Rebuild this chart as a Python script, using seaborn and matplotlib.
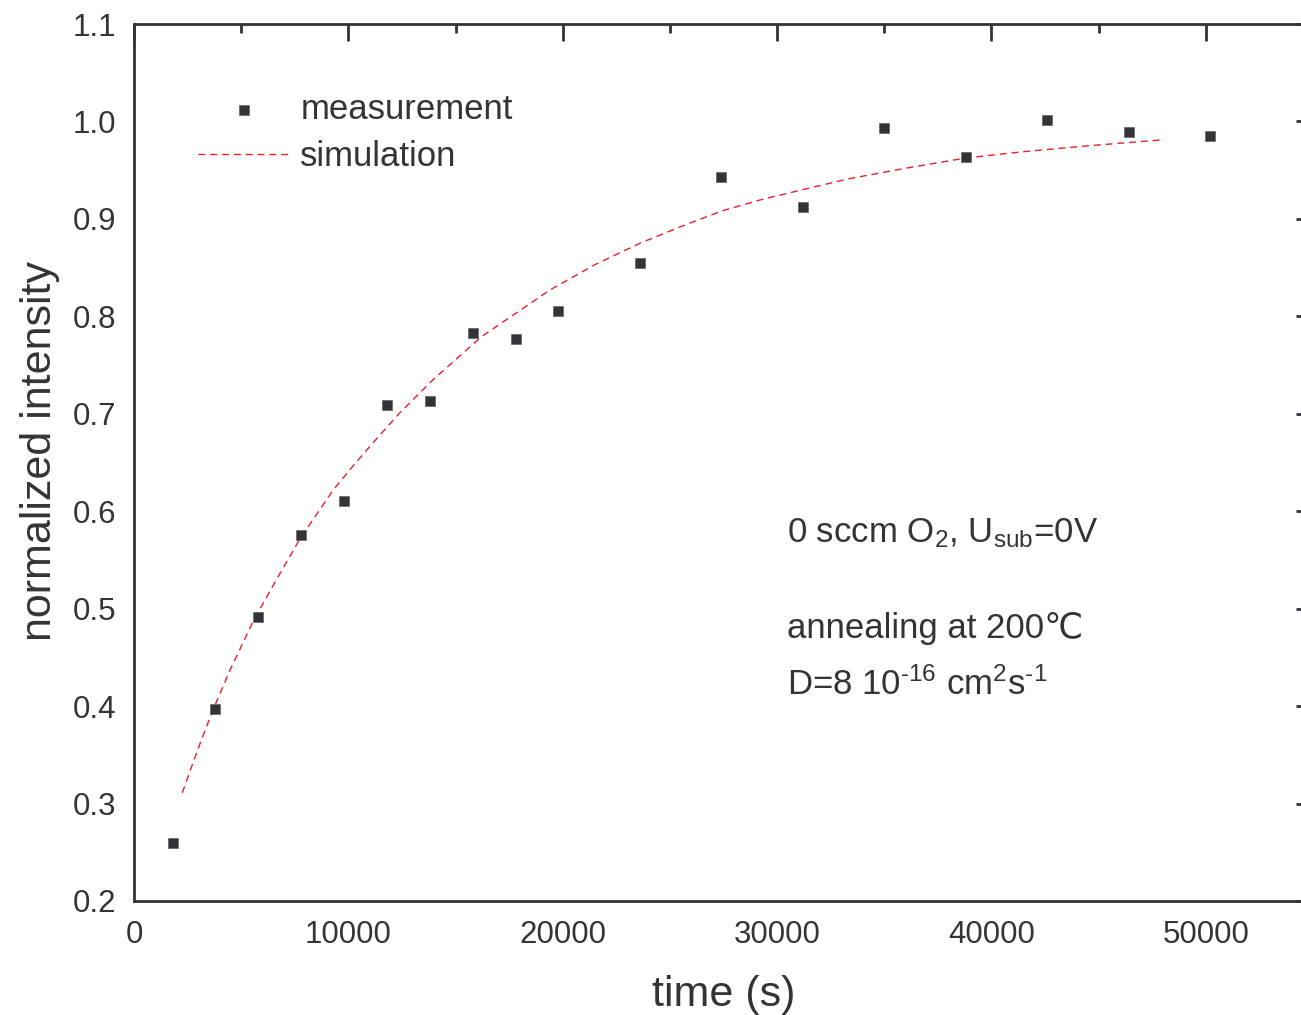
import matplotlib
matplotlib.use("Agg")
import matplotlib.pyplot as plt
import seaborn as sns
import pandas as pd
from matplotlib.ticker import MultipleLocator, FixedLocator

# ---- data ----
meas_time = [1800, 3800, 5800, 7800, 9800, 11800, 13800, 15800, 17800, 19800,
             23600, 27400, 31200, 35000, 38800, 42600, 46400, 50200]
meas_int = [0.260, 0.397, 0.491, 0.576, 0.610, 0.709, 0.713, 0.783, 0.777, 0.805,
            0.855, 0.943, 0.912, 0.993, 0.964, 1.001, 0.989, 0.985]

sim_time = [2250, 3000, 3700, 4500, 5600, 6700, 7750, 9300, 10200, 11300, 12400, 13950,
            16200, 19400, 21500, 23600, 25500, 27400, 29300, 31200, 33300, 36000,
            38800, 41500, 44500, 47900]
sim_int = [0.311, 0.357, 0.397, 0.438, 0.489, 0.532, 0.572, 0.622, 0.646, 0.674, 0.701,
           0.735, 0.779, 0.827, 0.853, 0.875, 0.892, 0.908, 0.920, 0.930, 0.941, 0.952,
           0.9625, 0.969, 0.975, 0.981]

x_ticks = [0, 10000, 20000, 30000, 40000, 50000]
y_ticks = [0.2, 0.3, 0.4, 0.5, 0.6, 0.7, 0.8, 0.9, 1.0, 1.1]

meas = pd.DataFrame({"time": meas_time, "intensity": meas_int})
sim = pd.DataFrame({"time": sim_time, "intensity": sim_int})

sns.set_style("white")
plt.rcParams["font.family"] = ["Liberation Sans", "DejaVu Sans"]
plt.rcParams["mathtext.fontset"] = "custom"
plt.rcParams["mathtext.rm"] = "Liberation Sans"
plt.rcParams["mathtext.it"] = "Liberation Sans"
plt.rcParams["mathtext.bf"] = "Liberation Sans:bold"

dark = "#333338"
W, H = 1301, 1015
fig = plt.figure(figsize=(W / 100, H / 100), dpi=100)
ax = fig.add_axes([134 / W, (H - 901) / H, (1313 - 134) / W, (901 - 24) / H])

sns.lineplot(data=sim, x="time", y="intensity", ax=ax, color="#e8202a",
             linewidth=1.0, dashes=False, sort=False, label="simulation", zorder=2)
ax.lines[0].set_dashes((5, 3.5))
sns.scatterplot(data=meas, x="time", y="intensity", ax=ax, marker="s", s=52,
                color=dark, edgecolor="#55555a", linewidth=0.4, label="measurement",
                zorder=3)

ax.set_xlim(0, 55000)
ax.set_ylim(0.2, 1.1)
ax.xaxis.set_major_locator(FixedLocator(x_ticks))
ax.xaxis.set_minor_locator(MultipleLocator(5000))
ax.yaxis.set_major_locator(FixedLocator(y_ticks))
ax.yaxis.set_minor_locator(MultipleLocator(0.05))
ax.set_xticklabels([str(v) for v in x_ticks])
ax.set_yticklabels([f"{v:.1f}" for v in y_ticks])

for s in ax.spines.values():
    s.set_color(dark)
    s.set_linewidth(2.0)
ax.tick_params(which="both", direction="in", top=True, right=True,
               color=dark, width=2.0, labelcolor=dark, labelsize=22.5)
ax.tick_params(which="major", length=12.5)
ax.tick_params(which="minor", length=6.5)
ax.tick_params(axis="x", which="major", pad=13.5)
ax.tick_params(axis="y", which="major", pad=13)

ax.set_xlabel("time (s)", fontsize=31, color=dark, labelpad=18)
ax.set_ylabel("normalized intensity", fontsize=31, color=dark, labelpad=9)
ax.yaxis.label.set_y(0.513)

handles, labels = ax.get_legend_handles_labels()
order = [labels.index("measurement"), labels.index("simulation")]
leg = ax.legend([handles[i] for i in order], [labels[i] for i in order],
                loc="upper left", bbox_to_anchor=(198 / W, 1 - 93 / H),
                bbox_transform=fig.transFigure, frameon=False, fontsize=25,
                handlelength=2.65, handletextpad=0.3, labelspacing=0.4,
                borderpad=0, borderaxespad=0, scatterpoints=1)
for t in leg.get_texts():
    t.set_color(dark)

tx = 30450
ax.text(tx, 0.5676, r"0 sccm O$_{\mathrm{2}}$, U$_{\mathrm{sub}}$=0V", fontsize=25,
        color=dark, va="baseline", ha="left")
ax.text(tx, 0.470, "annealing at 200℃", fontsize=25, color=dark,
        va="baseline", ha="left")
ax.text(tx, 0.4115, r"D=8 10$^{\text{-16}}$ cm$^{\mathrm{2}}$s$^{\text{-1}}$", fontsize=25,
        color=dark, va="baseline", ha="left")

fig.savefig("out.png", dpi=100)
